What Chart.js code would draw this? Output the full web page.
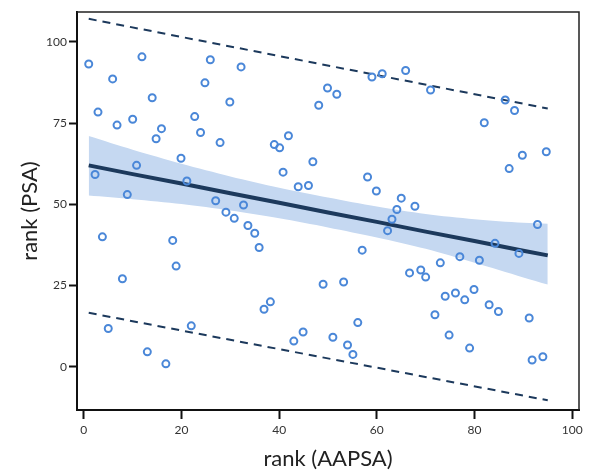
<!DOCTYPE html>
<html>
<head>
<meta charset="utf-8">
<script src="https://cdn.jsdelivr.net/npm/chart.js@4.4.1/dist/chart.umd.min.js"></script>
<style>
  html, body { margin: 0; padding: 0; background: #fff; }
  canvas { display: block; }
</style>
</head>
<body>
<canvas id="chart" width="590" height="472"></canvas>
<script>
// rank of each subject on both scales
const aapsaRank = [1.0, 11.9, 5.9, 25.9, 32.2, 24.8, 14.0, 29.9, 2.9, 6.8,
  10.0, 22.7, 15.9, 14.8, 23.9, 27.9, 19.9, 10.8, 2.3, 21.1,
  8.9, 27.0, 32.7, 29.1, 59.0, 61.1, 65.9, 49.9, 51.8, 48.1,
  41.9, 39.0, 40.1, 46.9, 40.8, 43.9, 46.0, 58.1, 59.9, 65.0,
  64.1, 71.0, 86.3, 88.2, 82.0, 89.8, 94.7, 87.1, 67.8, 3.8,
  18.2, 18.9, 7.9, 5.0, 22.0, 13.0, 16.8, 30.8, 33.6, 35.0,
  35.9, 49.0, 53.2, 57.0, 38.2, 36.9, 44.9, 43.0, 51.0, 56.1,
  54.0, 55.1, 62.2, 63.1, 66.7, 92.9, 84.2, 89.1, 77.0, 81.0,
  73.0, 69.0, 70.0, 74.0, 76.1, 78.0, 79.9, 83.0, 84.9, 91.2,
  71.9, 74.8, 79.0, 91.8, 94.0];
const psaRank = [93.2, 95.4, 88.6, 94.5, 92.3, 87.4, 82.8, 81.5, 78.4, 74.4,
  76.2, 77.0, 73.3, 70.2, 72.1, 69.0, 64.2, 62.0, 59.2, 57.2,
  53.0, 51.1, 49.8, 47.6, 89.2, 90.2, 91.2, 85.8, 83.9, 80.5,
  71.1, 68.4, 67.4, 63.1, 59.9, 55.4, 55.8, 58.4, 54.1, 51.9,
  48.4, 85.2, 82.1, 78.9, 75.1, 65.1, 66.2, 61.0, 49.4, 40.0,
  38.9, 31.0, 27.1, 11.8, 12.6, 4.6, 0.9, 45.7, 43.5, 41.1,
  36.7, 25.4, 26.1, 35.9, 20.0, 17.7, 10.7, 7.9, 9.1, 13.6,
  6.7, 3.8, 41.9, 45.4, 28.9, 43.8, 38.0, 34.9, 33.9, 32.8,
  32.0, 29.8, 27.6, 21.7, 22.7, 20.6, 23.8, 19.1, 17.0, 15.0,
  16.0, 9.75, 5.75, 2.1, 3.1];

// regression line and its confidence band
const fitX = [1, 10, 20, 30, 40, 50, 60, 70, 80, 90, 95];
const fitY = [62.0, 59.3, 56.4, 53.4, 50.5, 47.5, 44.6, 41.6, 38.7, 35.7, 34.3];
const ciUpper = [71.0, 66.8, 62.5, 58.6, 55.1, 52.1, 49.3, 47.0, 45.4, 44.3, 44.0];
const ciLower = [52.7, 51.6, 50.1, 48.1, 45.7, 42.9, 39.8, 36.3, 32.0, 27.5, 25.3];

// prediction interval (dashed)
const piX = [1, 95];
const piUpper = [107.1, 79.5];
const piLower = [16.6, -10.3];

const xTicks = [0, 20, 40, 60, 80, 100];
const yTicks = [0, 25, 50, 75, 100];

const FONT = 'Lato, "Open Sans", sans-serif';
const NAVY = '#1c395c';

function pts(xs, ys) {
  return xs.map((x, i) => ({ x: x, y: ys[i] }));
}

// top and right edges of the box
const frame = {
  id: 'frame',
  afterDatasetsDraw(chart) {
    const { ctx, chartArea: a } = chart;
    ctx.save();
    ctx.strokeStyle = '#222';
    ctx.lineWidth = 1.5;
    ctx.beginPath();
    ctx.moveTo(a.left, a.top);
    ctx.lineTo(a.right, a.top);
    ctx.lineTo(a.right, a.bottom);
    ctx.stroke();
    ctx.restore();
  }
};

const dashed = {
  showLine: true, pointRadius: 0, borderColor: NAVY, borderWidth: 2,
  borderDash: [8, 6], fill: false, order: 2
};

new Chart(document.getElementById('chart'), {
  type: 'line',
  data: {
    datasets: [
      {
        data: pts(aapsaRank, psaRank), showLine: false,
        pointRadius: 3.5, pointBorderWidth: 2,
        pointBorderColor: '#4a87d8', pointBackgroundColor: 'rgba(0,0,0,0)',
        order: 0
      },
      {
        data: pts(fitX, fitY), pointRadius: 0, borderColor: NAVY,
        borderWidth: 4, fill: false, order: 1
      },
      Object.assign({ data: pts(piX, piUpper) }, dashed),
      Object.assign({ data: pts(piX, piLower) }, dashed),
      {
        data: pts(fitX, ciUpper), pointRadius: 0, borderWidth: 0,
        borderColor: 'rgba(0,0,0,0)', backgroundColor: '#c5d8f1',
        fill: '+1', tension: 0.3, order: 3
      },
      {
        data: pts(fitX, ciLower), pointRadius: 0, borderWidth: 0,
        borderColor: 'rgba(0,0,0,0)', fill: false, tension: 0.3, order: 3
      }
    ]
  },
  options: {
    responsive: false,
    animation: false,
    events: [],
    layout: { padding: { top: 12, right: 11, left: 0, bottom: 0 } },
    plugins: { legend: { display: false }, tooltip: { enabled: false } },
    scales: {
      x: {
        type: 'linear', min: -1.4, max: 101.4,
        afterBuildTicks: s => { s.ticks = xTicks.map(v => ({ value: v })); },
        afterFit: s => { s.height = 62; },
        grid: { drawOnChartArea: false, tickLength: 9, tickWidth: 2, tickColor: '#111' },
        border: { color: '#111', width: 2 },
        ticks: { color: '#333', font: { family: FONT, size: 12 }, padding: 4, maxRotation: 0 },
        title: {
          display: true, text: 'rank (AAPSA)', color: '#222',
          font: { family: FONT, size: 22 }, padding: { top: 0, bottom: 0 }
        }
      },
      y: {
        type: 'linear', min: -13.3, max: 109.2,
        afterBuildTicks: s => { s.ticks = yTicks.map(v => ({ value: v })); },
        afterFit: s => { s.width = 77; },
        grid: { drawOnChartArea: false, tickLength: 8, tickWidth: 2, tickColor: '#111' },
        border: { color: '#111', width: 2 },
        ticks: { color: '#333', font: { family: FONT, size: 12 }, padding: 2 },
        title: {
          display: true, text: 'rank (PSA)', color: '#222',
          font: { family: FONT, size: 22 }, padding: { top: 17, bottom: 0 }
        }
      }
    }
  },
  plugins: [frame]
});
</script>
</body>
</html>
